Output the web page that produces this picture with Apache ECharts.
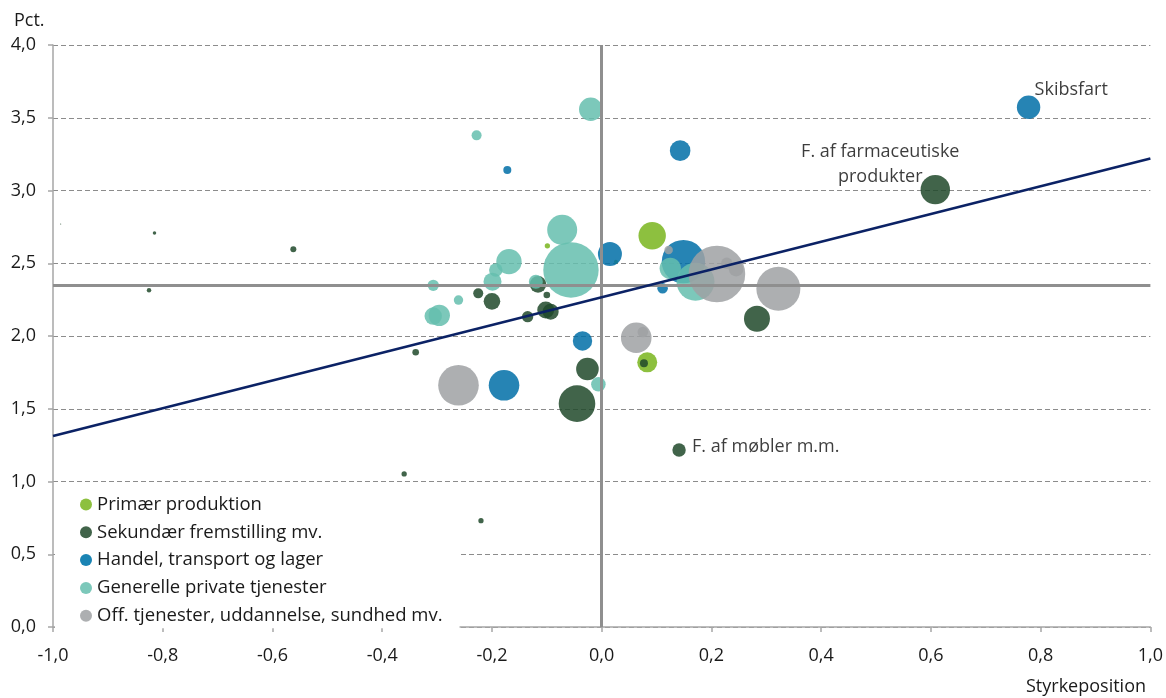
<!DOCTYPE html>
<html><head><meta charset="utf-8">
<script src="https://cdn.jsdelivr.net/npm/echarts@6/dist/echarts.min.js"></script>
<style>html,body{margin:0;padding:0;background:#fff}#c{width:1166px;height:698px}</style>
</head><body><div id="c"></div>
<script>
// Category names
const seriesNames = ['Primær produktion','Sekundær fremstilling mv.','Handel, transport og lager','Generelle private tjenester','Off. tjenester, uddannelse, sundhed mv.'];
// [styrkeposition, pct., weight]
const primaer = [[-0.099,2.62,7],[0.092,2.689,188],[0.083,1.819,100],[0.026,2.511,4]];
const sekundaer = [[-0.986,2.77,0.3],[-0.815,2.708,3],[-0.562,2.596,9],[-0.825,2.314,5],[-0.360,1.052,7],[-0.220,0.731,7],
  [-0.339,1.888,11],[-0.225,2.293,25],[-0.200,2.238,69],[-0.116,2.355,69],[-0.100,2.282,11],[-0.135,2.133,32],
  [-0.102,2.179,72],[-0.093,2.167,64],[-0.026,1.773,128],[-0.045,1.535,335],[0.077,1.812,16],[0.283,2.119,169],
  [0.608,3.006,216],[0.141,1.216,45]];
const handel = [[-0.172,3.141,16],[0.143,3.274,106],[0.015,2.564,144],[-0.035,1.966,94],[-0.178,1.661,234],
  [0.149,2.511,471],[0.111,2.328,28],[0.778,3.572,137]];
const generelle = [[-0.020,3.558,137],[-0.228,3.379,25],[-0.072,2.73,225],[-0.056,2.454,767],[-0.169,2.511,161],
  [-0.193,2.454,45],[-0.199,2.373,81],[-0.307,2.348,32],[-0.120,2.373,49],[-0.261,2.247,22],[-0.296,2.142,114],
  [-0.307,2.137,76],[-0.006,1.668,53],[0.125,2.465,114],[0.171,2.373,361]];
const offentlig = [[-0.261,1.661,412],[0.063,1.988,234],[0.075,2.027,28],[0.122,2.591,18],[0.210,2.426,801],
  [0.228,2.50,32],[0.245,2.459,53],[0.322,2.325,484]];
// Annotated points: [series index, point index, text]
const annotations = [[1,18,'F. af farmaceutiske\nprodukter'],[1,19,'F. af møbler m.m.'],[2,7,'Skibsfart']];
// Trend line and averages
const regression = [[-1.0,1.313],[1.0,3.22]];
const meanX = 0;
const meanY = 2.35;
const xMin = -1.0, xMax = 1.0, xStep = 0.2;
const yMin = 0.0, yMax = 4.0, yStep = 0.5;

const displayColors = ['#8dc03f','#41644a','#1a84b4','#7cc8ba','#adafb1'];
const baseColors = ['#79b51d','#20492a','#006ea7','#65beae','#9fa1a3'];
const allData = [primaer, sekundaer, handel, generelle, offentlig];
const labelStyles = {
  'Skibsfart': {offset:[6,-17], align:'left'},
  'F. af farmaceutiske\nprodukter': {offset:[-55,-25], align:'center'},
  'F. af møbler m.m.': {offset:[13,-3], align:'left'}
};
const fmt = v => (Math.abs(v) < 1e-9 ? 0 : v).toFixed(1).replace('.', ',');
const FONT = '"Open Sans", "Noto Sans", sans-serif';

const scatterSeries = allData.map((arr, si) => ({
  type: 'scatter',
  name: seriesNames[si],
  z: 2,
  symbolSize: d => 2 * Math.sqrt(d[2]),
  itemStyle: {color: baseColors[si], opacity: 0.85},
  emphasis: {disabled: true},
  data: arr.map((d, pi) => {
    const a = annotations.find(t => t[0] === si && t[1] === pi);
    if (!a) return d;
    const st = labelStyles[a[2]];
    return {value: d, label: {show: true, formatter: a[2], position: 'inside', offset: st.offset,
      align: st.align, verticalAlign: 'middle', color: '#1a1a1a', fontSize: 18, lineHeight: 25, fontFamily: FONT}};
  })
}));

const chart = echarts.init(document.getElementById('c'), null, {renderer: 'canvas'});
chart.setOption({
  animation: false,
  backgroundColor: '#fff',
  grid: {left: 53, right: 15, top: 45, bottom: 71, containLabel: false},
  xAxis: {
    type: 'value', min: xMin, max: xMax, interval: xStep,
    axisLine: {show: true, onZero: false, lineStyle: {color: '#a6a6a6', width: 1.5}},
    axisTick: {show: true, length: 5, lineStyle: {color: '#a6a6a6', width: 1.5}},
    axisLabel: {formatter: fmt, color: '#1a1a1a', fontSize: 18, fontFamily: FONT, margin: 20},
    splitLine: {show: false}
  },
  yAxis: {
    type: 'value', min: yMin, max: yMax, interval: yStep,
    axisLine: {show: true, onZero: false, lineStyle: {color: '#a6a6a6', width: 1.5}},
    axisTick: {show: true, length: 5, lineStyle: {color: '#a6a6a6', width: 1.5}},
    axisLabel: {formatter: fmt, color: '#1a1a1a', fontSize: 18, fontFamily: FONT, margin: 17},
    splitLine: {show: true, lineStyle: {color: '#8c8c8c', width: 1, type: [5, 3]}}
  },
  legend: {
    orient: 'vertical', left: 55, top: 487,
    padding: [8, 17, 3, 25], backgroundColor: '#fff',
    itemWidth: 12, itemHeight: 12, itemGap: 8.8, icon: 'circle',
    textStyle: {color: '#1a1a1a', fontSize: 18.5, fontFamily: FONT, lineHeight: 18},
    data: seriesNames.map((n, i) => ({name: n, icon: 'circle', itemStyle: {color: displayColors[i], opacity: 1}}))
  },
  graphic: [
    {type: 'text', left: 14, top: 12, style: {text: 'Pct.', fill: '#1a1a1a', font: '18px ' + FONT}},
    {type: 'text', right: 20, top: 678, style: {text: 'Styrkeposition', fill: '#1a1a1a', font: '18px ' + FONT}}
  ],
  series: scatterSeries.concat([{
    type: 'line', name: 'trend', z: 5, data: regression, symbol: 'none', silent: true,
    lineStyle: {color: '#0b2265', width: 2.5},
    markLine: {
      silent: true, symbol: ['none', 'none'], label: {show: false},
      lineStyle: {color: '#8f8f8f', width: 3, type: 'solid'},
      data: [{xAxis: meanX}, {yAxis: meanY}]
    }
  }])
});
</script></body></html>
